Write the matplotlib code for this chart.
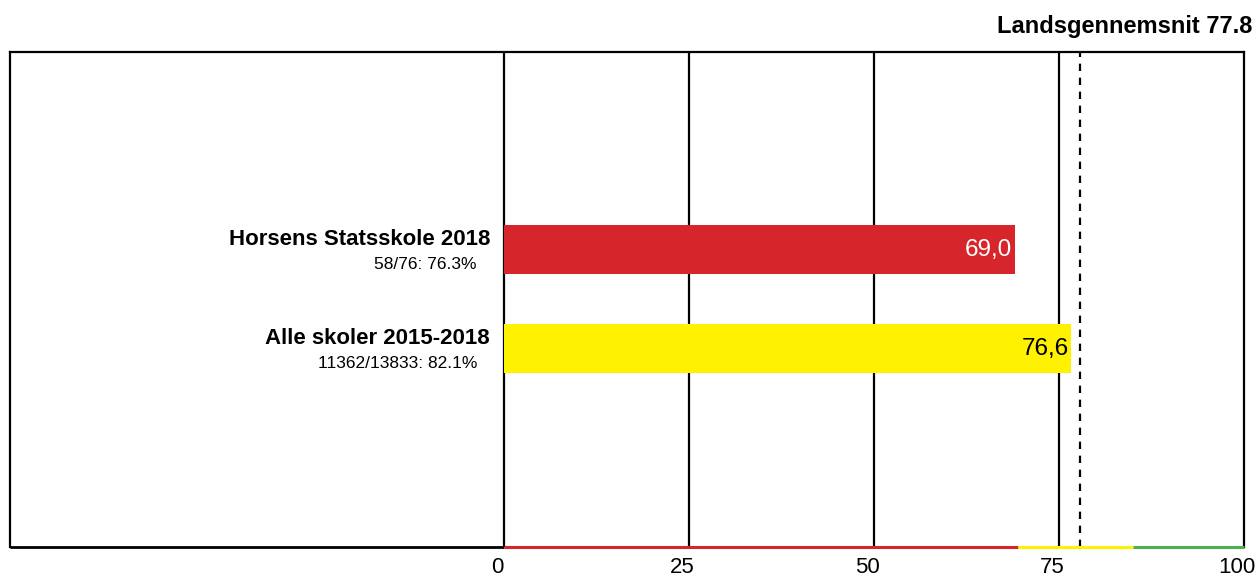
import matplotlib
matplotlib.use("Agg")
import matplotlib.pyplot as plt
from matplotlib import transforms

# data
schools = ["Horsens Statsskole 2018", "Alle skoler 2015-2018"]
sublabels = ["58/76: 76.3%", "11362/13833: 82.1%"]
values = [69.0, 76.6]
bar_colors = ["#d6262c", "#fff200"]
value_text_colors = ["white", "black"]
national_avg = 77.8
ticks = [0, 25, 50, 75, 100]
band_edges = [0, 69.5, 85, 100]
band_colors = ["#d6262c", "#fff200", "#4caf50"]

plt.rcParams['font.family'] = ['Liberation Sans', 'DejaVu Sans']

fig = plt.figure(figsize=(12.56, 5.76), dpi=100)
W, H = 1256, 576
left_px, zero_px, right_px = 10, 504, 1244
top_px, bot_px = 52, 547
ax = fig.add_axes([left_px / W, 1 - bot_px / H, (right_px - left_px) / W, (bot_px - top_px) / H])

scale = (right_px - zero_px) / 100.0
ax.set_xlim(-(zero_px - left_px) / scale, 100)
ax.set_ylim(-2.005, 2.995)

for s in ax.spines.values():
    s.set_linewidth(1.6)
    s.set_color("black")
ax.spines['bottom'].set_visible(False)

# bottom edge: black under the label area, coloured bands under the scale
ax.plot([ax.get_xlim()[0], 0], [-2.005, -2.005], color="black", lw=2,
        solid_capstyle="butt", clip_on=False, zorder=5)
for i in range(len(band_colors)):
    ax.plot([band_edges[i], band_edges[i + 1]], [-2.005, -2.005], color=band_colors[i],
            lw=2.2, solid_capstyle="butt", clip_on=False, zorder=5)

# grid lines
for t in ticks[:-1]:
    ax.axvline(t, color="black", lw=1.6, zorder=1)
ax.axvline(national_avg, color="black", lw=1.6, ls=(0, (3.3, 3.0)), zorder=3)

ypos = [1, 0]
ax.barh(ypos, values, height=0.5, color=bar_colors, zorder=2)

for y, name, sub, v, tc in zip(ypos, schools, sublabels, values, value_text_colors):
    ax.text(-14 / scale, y + 0.10, name, ha="right", va="center", fontsize=16,
            fontweight="bold")
    ax.text(-27 / scale, y - 0.15, sub, ha="right", va="center", fontsize=12.5)
    ax.text(v - 0.3, y, f"{v:.1f}".replace(".", ","), ha="right", va="center",
            fontsize=17.5, color=tc, zorder=4)

# tick labels sit a little left of their ticks
ax.set_xticks([])
ax.set_yticks([])
shift = transforms.ScaledTranslation(-7 / 100, 0, fig.dpi_scale_trans)
trans = transforms.blended_transform_factory(ax.transData, ax.transAxes) + shift
for t in ticks:
    ax.text(t, -0.02, str(t), transform=trans, ha="center", va="top", fontsize=16)

fig.text(1252 / W, 1 - 27 / H, f"Landsgennemsnit {national_avg}", ha="right", va="center",
         fontsize=17, fontweight="bold")

fig.savefig("out.png", dpi=100)
